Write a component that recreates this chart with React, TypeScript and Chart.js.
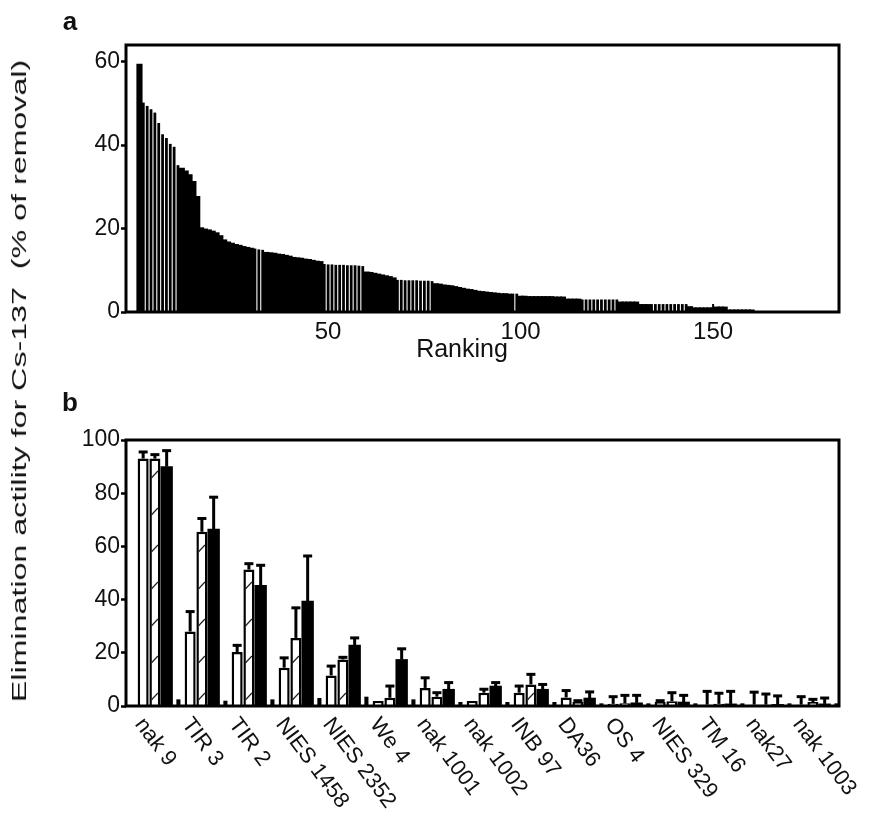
import React, { useEffect, useRef } from 'react';
import { Chart, registerables } from 'chart.js';
Chart.register(...registerables);

const FONT = '"Liberation Sans", Arial, Helvetica, sans-serif';

// ---------- Panel a: ranking ----------
const rankingValues = [
  59.5,
  50.2, 49.4, 48.6, 47.8, 45.3, 42.6, 41.7, 40.3, 39.6, 35.2,
  34.6, 33.9, 33.0, 31.4, 27.8,
  20.3, 20.0, 19.8, 19.5, 19.1, 18.4, 17.4, 16.9, 16.6, 16.3, 16.1, 15.8, 15.6, 15.4,
  15.2, 15.0, 14.9,
  14.4, 14.3, 14.2, 14.0, 13.9, 13.7, 13.5, 13.2, 13.1, 13.0, 12.8, 12.7, 12.5, 12.3, 12.2,
  11.5, 11.4, 11.4, 11.3, 11.3, 11.3, 11.2, 11.2, 11.2, 11.1, 11.0,
  9.7, 9.6, 9.4, 9.2, 9.0, 8.8, 8.6, 8.3,
  7.7, 7.7, 7.6, 7.6, 7.6, 7.6, 7.5, 7.5, 7.5, 7.4,
  6.9, 6.8, 6.6, 6.5, 6.4, 6.2, 6.0, 5.8, 5.6, 5.5, 5.3, 5.1, 5.0, 4.9, 4.8, 4.7, 4.6, 4.5, 4.5, 4.4,
  4.4, 4.4,
  3.9, 3.9, 3.8, 3.8, 3.8, 3.8, 3.8, 3.8, 3.8, 3.7, 3.7, 3.7, 3.2, 3.2, 3.2, 3.2,
  3.0, 3.0, 3.0, 3.0, 3.0, 3.0, 3.0, 3.0, 3.0, 3.0,
  2.5, 2.5, 2.5, 2.5, 2.5, 1.9, 1.9, 1.9,
  1.9, 1.9, 1.9, 1.9, 1.9, 1.9, 1.9, 1.9, 1.9, 1.9,
  1.4, 1.1, 1.1, 1.1, 1.1, 1.1, 1.1, 1.3, 1.3, 1.3, 0.6, 0.6, 0.6, 0.6, 0.6, 0.6, 0.6,
];
const stripedRanges = [[2, 11], [31, 33], [49, 59], [68, 77], [98, 99], [116, 125], [134, 143]];
const rankTicks = [50, 100, 150];

// ---------- Panel b: selected strains ----------
const strains = ['nak 9', 'TIR 3', 'TIR 2', 'NIES 1458', 'NIES 2352', 'We 4', 'nak 1001', 'nak 1002',
  'INB 97', 'DA36', 'OS 4', 'NIES 329', 'TM 16', 'nak27', 'nak 1003'];
const whiteVals = [93, 28, 20.3, 14.4, 11.5, 1.9, 6.8, 1.9, 5, 3.2, 0.8, 1.5, 0.5, 0.5, 0.5];
const whiteErr = [2.5, 7.5, 2.5, 3.7, 3.5, 0, 3.8, 0, 2.5, 2.6, 2.7, 0.5, 5, 4.7, 3];
const hatchVals = [93, 65.5, 51.3, 25.6, 17.5, 3.1, 3.5, 5, 8.1, 1.5, 1, 1.8, 0.8, 0.5, 1.5];
const hatchErr = [1.5, 5, 2.2, 11.3, 0.8, 4.4, 1.5, 1.3, 3.8, 0.5, 3, 3.2, 4, 4, 1];
const blackVals = [90, 66.5, 45.4, 39.4, 22.9, 17.5, 6.3, 7.5, 6.3, 3, 1.2, 1.5, 0.8, 0.6, 0.8];
const blackErr = [6, 12, 7.5, 17, 2.7, 4, 2.5, 1.3, 1.8, 2.3, 2.8, 2.5, 4.7, 3.2, 2.2];
const fourthVals = [2.5, 2, 2.5, 3, 3.5, 2.5, 1.5, 1.5, 1.5, 1, 1, 1, 1, 1, 1];

const isStriped = (r: number) => stripedRanges.some(([a, b]) => r >= a && r <= b);

const framePlugin = {
  id: 'frame',
  afterDatasetsDraw(chart: any) {
    const { ctx, chartArea: a } = chart;
    ctx.save();
    ctx.strokeStyle = '#000';
    ctx.lineWidth = 3;
    ctx.strokeRect(a.left, a.top, a.right - a.left, a.bottom - a.top);
    ctx.restore();
  },
};

const innerTicksPlugin = {
  id: 'innerTicks',
  afterDatasetsDraw(chart: any) {
    const { ctx, chartArea: a, scales } = chart;
    ctx.save();
    ctx.strokeStyle = '#000';
    ctx.lineWidth = 2;
    rankTicks.forEach((v) => {
      const px = scales.x.getPixelForValue(v);
      ctx.beginPath();
      ctx.moveTo(px, a.bottom);
      ctx.lineTo(px, a.bottom - 8);
      ctx.stroke();
    });
    ctx.restore();
  },
};

const errPlugin = {
  id: 'errbars',
  afterDatasetsDraw(chart: any) {
    const { ctx } = chart;
    const ys = chart.scales.y;
    ctx.save();
    // sparse diagonal hatch marks in the hatched bars
    const hm = chart.getDatasetMeta(1);
    ctx.strokeStyle = '#222';
    ctx.lineWidth = 1.2;
    hm.data.forEach((el: any) => {
      const { x, y: top, base, width } = el.getProps(['x', 'y', 'base', 'width'], true);
      const left = x - width / 2;
      for (let yy = base - 9; yy - 4 > top + 2; yy -= 37) {
        ctx.beginPath();
        ctx.moveTo(left + 2, yy + 3.5);
        ctx.lineTo(left + 8.5, yy - 3.5);
        ctx.stroke();
      }
    });
    const vals = [whiteVals, hatchVals, blackVals];
    const errs = [whiteErr, hatchErr, blackErr];
    ctx.strokeStyle = '#000';
    errs.forEach((arr, di) => {
      const meta = chart.getDatasetMeta(di);
      meta.data.forEach((el: any, i: number) => {
        const e = arr[i];
        if (!e) return;
        const yt = ys.getPixelForValue(vals[di][i] + e);
        const { x, y: top } = el.getProps(['x', 'y'], true);
        ctx.lineWidth = 3;
        ctx.beginPath();
        ctx.moveTo(x, top);
        ctx.lineTo(x, yt);
        ctx.stroke();
        ctx.beginPath();
        ctx.moveTo(x - 4.5, yt);
        ctx.lineTo(x + 4.5, yt);
        ctx.stroke();
      });
    });
    ctx.restore();
  },
};

const rotLabelsPlugin = {
  id: 'rotLabels',
  afterDraw(chart: any) {
    const { ctx, chartArea, scales } = chart;
    ctx.save();
    ctx.font = '22px ' + FONT;
    ctx.fillStyle = '#111';
    ctx.textAlign = 'left';
    ctx.textBaseline = 'top';
    strains.forEach((lab, i) => {
      const px = scales.x.getPixelForValue(i);
      ctx.save();
      ctx.translate(px - 13, chartArea.bottom + 8);
      ctx.rotate((53 * Math.PI) / 180);
      ctx.fillText(lab, 0, 0);
      ctx.restore();
    });
    ctx.restore();
  },
};

const yAxis = (max: number) => ({
  min: 0,
  max,
  afterFit: (s: any) => { s.width = 126; },
  border: { display: false },
  grid: { drawOnChartArea: false, drawTicks: true, tickLength: 5, tickWidth: 2.5, tickColor: '#000' },
  ticks: { stepSize: 20, includeBounds: false, font: { size: 23 }, color: '#111', padding: 1 },
});

export default function App() {
  const refA = useRef<HTMLCanvasElement>(null);
  const refB = useRef<HTMLCanvasElement>(null);

  useEffect(() => {
    Chart.defaults.font.family = FONT;
    Chart.defaults.color = '#111';

    const solidPts: any[] = [];
    const stripedPts: any[] = [];
    rankingValues.forEach((v, i) => {
      const r = i + 1;
      (isStriped(r) ? stripedPts : solidPts).push({ x: r, y: v });
    });

    const chartA = new Chart(refA.current as HTMLCanvasElement, {
      type: 'bar',
      data: {
        datasets: [
          { data: solidPts, backgroundColor: '#000', borderWidth: 0, barPercentage: 1.6, categoryPercentage: 1, grouped: false } as any,
          { data: stripedPts, backgroundColor: '#000', borderWidth: 0, barPercentage: 0.72, categoryPercentage: 1, grouped: false } as any,
        ],
      },
      options: {
        animation: false,
        responsive: false,
        layout: { padding: { top: 45, right: 57, left: 0, bottom: 0 } },
        plugins: { legend: { display: false }, tooltip: { enabled: false } },
        scales: {
          x: {
            type: 'linear',
            min: -2.5,
            max: 182.7,
            offset: false,
            afterBuildTicks: (s: any) => { s.ticks = rankTicks.map((v) => ({ value: v })); },
            afterFit: (s: any) => { s.height = 68; },
            grid: { display: false, drawTicks: false },
            border: { display: false },
            ticks: { font: { size: 24 }, color: '#111', padding: 6, maxRotation: 0, autoSkip: false },
          } as any,
          y: yAxis(64) as any,
        },
      },
      plugins: [framePlugin, innerTicksPlugin],
    });

    const pts = (arr: number[]) => arr.map((v, i) => ({ x: i, y: v }));
    const chartB = new Chart(refB.current as HTMLCanvasElement, {
      type: 'bar',
      data: {
        datasets: [
          { label: 'a', data: pts(whiteVals), backgroundColor: '#fff', borderColor: '#000', borderWidth: 2.5, barPercentage: 0.94, categoryPercentage: 1 } as any,
          { label: 'b', data: pts(hatchVals), backgroundColor: '#fff', borderColor: '#000', borderWidth: 2.5, barPercentage: 0.94, categoryPercentage: 1 } as any,
          { label: 'c', data: pts(blackVals), backgroundColor: '#000', borderWidth: 0, barPercentage: 1, categoryPercentage: 1 } as any,
          { label: 'd', data: pts(fourthVals), backgroundColor: '#000', borderWidth: 0, barPercentage: 0.35, categoryPercentage: 1 } as any,
        ],
      },
      options: {
        animation: false,
        responsive: false,
        layout: { padding: { top: 60, right: 57, left: 0, bottom: 125 } },
        plugins: { legend: { display: false }, tooltip: { enabled: false } },
        scales: {
          x: { type: 'linear', min: -0.74, max: 14.43, offset: false, display: false } as any,
          y: yAxis(100) as any,
        },
      },
      plugins: [errPlugin, framePlugin, rotLabelsPlugin],
    });

    return () => {
      chartA.destroy();
      chartB.destroy();
    };
  }, []);

  return (
    <div style={{ position: 'absolute', left: 0, top: 0, width: 896, height: 831, background: '#fff', fontFamily: FONT, color: '#111' }}>
      <canvas ref={refA} width={896} height={380} style={{ position: 'absolute', left: 0, top: 0 }} />
      <canvas ref={refB} width={896} height={451} style={{ position: 'absolute', left: 0, top: 380 }} />
      <div style={{ position: 'absolute', left: 70, top: 21, transform: 'translate(-50%,-50%)', fontSize: 26, fontWeight: 'bold', lineHeight: 1 }}>a</div>
      <div style={{ position: 'absolute', left: 70, top: 402, transform: 'translate(-50%,-50%)', fontSize: 26, fontWeight: 'bold', lineHeight: 1 }}>b</div>
      <div style={{ position: 'absolute', left: 462, top: 348, transform: 'translate(-50%,-50%)', fontSize: 25, lineHeight: 1, whiteSpace: 'nowrap' }}>Ranking</div>
      <div style={{ position: 'absolute', left: 19, top: 381, transform: 'translate(-50%,-50%) rotate(-90deg) scaleX(1.61)', fontSize: 20, lineHeight: 1, whiteSpace: 'pre' }}>
        {'Elimination actility for Cs-137  (% of removal)'}
      </div>
    </div>
  );
}
